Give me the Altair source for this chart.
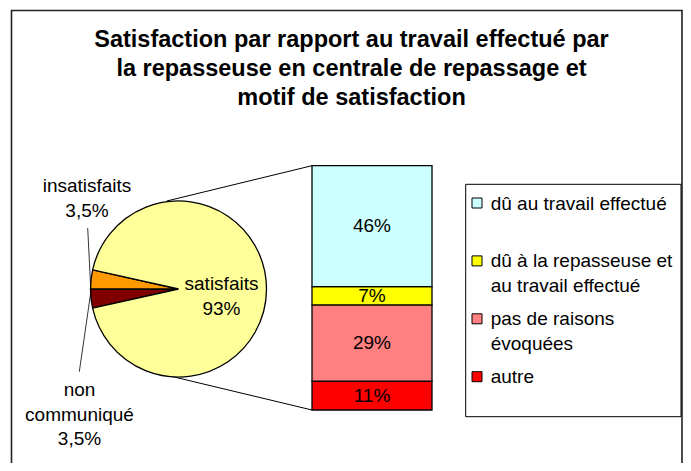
import math
import altair as alt
import pandas as pd

# ---------------- data ----------------
title_lines = [
    "Satisfaction par rapport au travail effectué par",
    "la repasseuse en centrale de repassage et",
    "motif de satisfaction",
]

pie_names = ["non\ncommuniqué", "insatisfaits", "satisfaits"]
pie_values = [3.5, 3.5, 93]
pie_colors = ["#800000", "#FF9900", "#FFFF99"]

bar_names = ["autre", "pas de raisons\névoquées",
             "dû à la repasseuse et\nau travail effectué", "dû au travail effectué"]
bar_values = [11, 29, 7, 46]
bar_colors = ["#FF0000", "#FF8080", "#FFFF00", "#CCFFFF"]


def fr_pct(v):
    return ("%g" % v).replace(".", ",") + "%"


# ---------------- tables ----------------
pie_df = pd.DataFrame({
    "name": pie_names,
    "value": pie_values,
    "color": pie_colors,
    "rank": list(range(len(pie_names))),
})
pie_df["label"] = pie_df["name"] + "\n" + pie_df["value"].map(fr_pct)

bar_df = pd.DataFrame({
    "name": bar_names,
    "value": bar_values,
    "color": bar_colors,
    "rank": list(range(len(bar_names))),
})
bar_df["end"] = bar_df["value"].cumsum()
bar_df["start"] = bar_df["end"] - bar_df["value"]
bar_df["mid"] = (bar_df["start"] + bar_df["end"]) / 2
bar_df["pct"] = bar_df["value"].map(lambda v: "%d%%" % v)
bar_total = float(sum(bar_values))

one = pd.DataFrame({"k": [0]})
FONT = "Liberation Sans"
FS = 19

# ---------------- layout (chart coords = page - 8) ----------------
W, H = 675, 455
CX, CY, R = 170.5, 281, 88
BAR_X0, BAR_X1 = 304, 424
BAR_BOTTOM, BAR_TOP = 402, 157.7

# theta: first slice (non communiqué) starts so that the two small slices
# meet at 9 o'clock
start = 1.5 * math.pi - 2 * math.pi * pie_values[0] / sum(pie_values)


def seg(x, y, x2, y2, width=1.0):
    return alt.Chart(one).mark_rule(color="black", strokeWidth=width).encode(
        x=alt.value(x), y=alt.value(y), x2=alt.value(x2), y2=alt.value(y2))


frame = alt.Chart(one).mark_rect(fill="white", stroke="#222222", strokeWidth=1.6).encode(
    x=alt.value(3.5), x2=alt.value(W - 1), y=alt.value(2.5), y2=alt.value(H + 20)
)

title = alt.Chart(one).mark_text(
    text="\n".join(title_lines), lineBreak="\n", align="center", baseline="alphabetic",
    font=FONT, fontSize=23.5, fontWeight="bold", lineHeight=29, color="black"
).encode(x=alt.value(343.5), y=alt.value(38.5))

pie = alt.Chart(pie_df).mark_arc(stroke="black", strokeWidth=1.3).encode(
    theta=alt.Theta("value:Q", stack=True,
                    scale=alt.Scale(range=[start, start + 2 * math.pi])),
    order=alt.Order("rank:Q"),
    color=alt.Color("color:N", scale=None),
    x=alt.value(CX), y=alt.value(CY), radius=alt.value(R),
)

conn_top = seg(158.7, 193, BAR_X0, BAR_TOP)
conn_bot = seg(162, 368, BAR_X0, BAR_BOTTOM)
lead_ins = seg(79.7, 220, 82.7, 279.5, 0.8)
lead_nc = seg(71.3, 363.7, 82.7, 285, 0.8)

label_style = dict(lineBreak="\n", align="center", baseline="alphabetic",
                   font=FONT, fontSize=FS, lineHeight=24.5, color="black")

lab_sat = alt.Chart(pie_df).transform_filter("datum.rank == 2").mark_text(**label_style).encode(
    text="label:N", x=alt.value(213.5), y=alt.value(282))
lab_ins = alt.Chart(pie_df).transform_filter("datum.rank == 1").mark_text(**label_style).encode(
    text="label:N", x=alt.value(79), y=alt.value(184))
lab_nc = alt.Chart(pie_df).transform_filter("datum.rank == 0").mark_text(**label_style).encode(
    text="label:N", x=alt.value(71.5), y=alt.value(388))

yscale = alt.Scale(domain=[0, bar_total], range=[BAR_BOTTOM, BAR_TOP], nice=False, zero=False)

bar = alt.Chart(bar_df).mark_rect(stroke="black", strokeWidth=1.3).encode(
    x=alt.value(BAR_X0), x2=alt.value(BAR_X1),
    y=alt.Y("start:Q", scale=yscale, axis=None), y2="end:Q",
    color=alt.Color("color:N", scale=None),
)

bar_text = alt.Chart(bar_df).mark_text(
    align="center", baseline="middle", font=FONT, fontSize=FS, color="black"
).encode(
    x=alt.value((BAR_X0 + BAR_X1) / 2),
    y=alt.Y("mid:Q", scale=yscale, axis=None),
    text="pct:N",
)

legend_box = alt.Chart(one).mark_rect(fill="white", stroke="black", strokeWidth=1).encode(
    x=alt.value(457.7), x2=alt.value(673), y=alt.value(176.3), y2=alt.value(408.7)
)

lscale = alt.Scale(domain=[0, len(bar_names) - 1], range=[368.7, 195], nice=False, zero=False)

legend_sq = alt.Chart(bar_df).mark_square(size=100, opacity=1, stroke="black", strokeWidth=1).encode(
    x=alt.value(469),
    y=alt.Y("rank:Q", scale=lscale, axis=None),
    color=alt.Color("color:N", scale=None),
)

legend_txt = alt.Chart(bar_df).mark_text(
    align="left", baseline="alphabetic", dy=6.5, lineBreak="\n",
    font=FONT, fontSize=FS, lineHeight=24.5, color="black"
).encode(
    x=alt.value(482.7),
    y=alt.Y("rank:Q", scale=lscale, axis=None),
    text="name:N",
)

chart = alt.layer(
    frame, title, conn_top, conn_bot, pie, lead_ins, lead_nc, lab_sat, lab_ins, lab_nc,
    bar, bar_text, legend_box, legend_sq, legend_txt
).resolve_scale(
    y="independent", theta="independent"
).properties(
    width=W, height=H, padding=0,
    autosize=alt.AutoSizeParams(type="none"),
    background="white",
).configure_view(stroke=None)

chart.save("out.html", embed_options={"renderer": "svg", "actions": False})
